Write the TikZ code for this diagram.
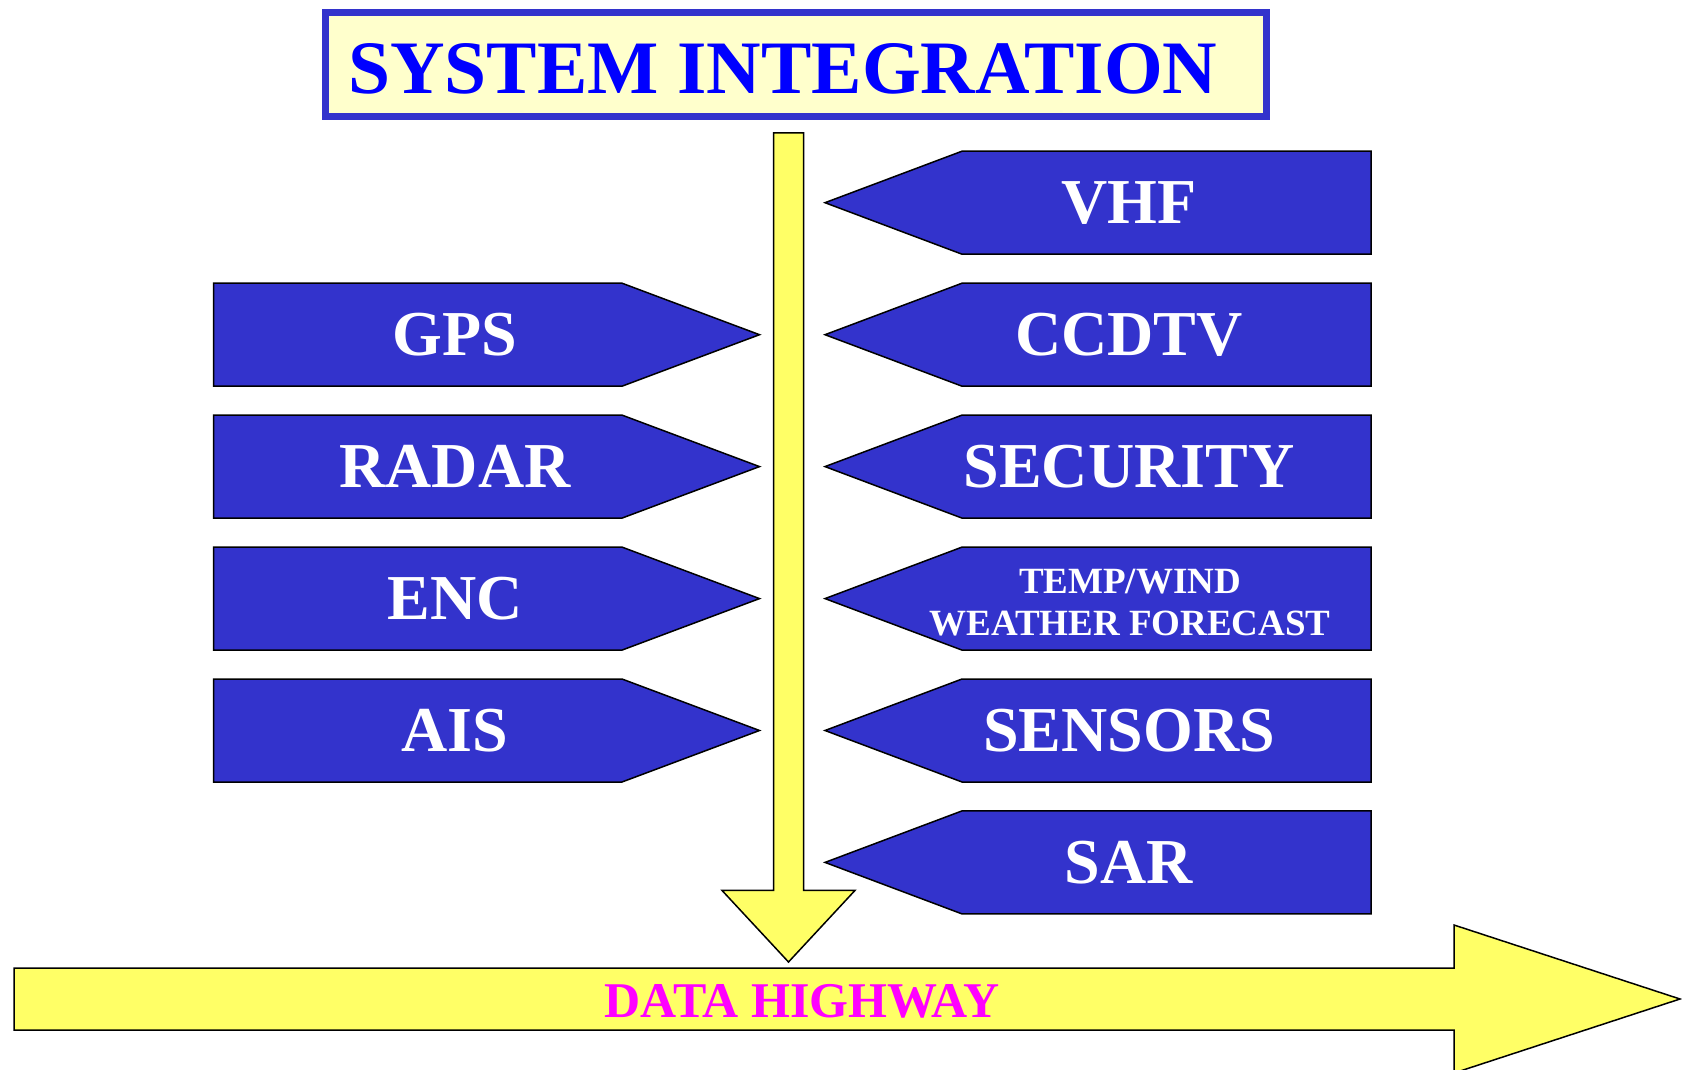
\documentclass[tikz,border=0pt]{standalone}
\usepackage{fontspec}
\setmainfont{Liberation Serif}
\definecolor{panelblue}{HTML}{3333CC}
\definecolor{busyellow}{HTML}{FFFF66}
\definecolor{titlefill}{HTML}{FFFFCC}
\definecolor{titleblue}{HTML}{0000FF}
\definecolor{busmagenta}{HTML}{FF00FF}
\begin{document}
\begin{tikzpicture}[x=1pt,y=-1pt,
  panel/.style={draw=black,fill=panelblue,line width=1.5pt,line join=miter},
  busarrow/.style={draw=black,fill=busyellow,line width=1.5pt,line join=miter},
  lbl/.style={text=white,font=\fontsize{64}{64}\selectfont\bfseries,inner sep=0pt,anchor=base},
  smalllbl/.style={text=white,font=\fontsize{37}{42}\selectfont\bfseries,inner sep=0pt,anchor=base}]
\useasboundingbox (0,0) rectangle (1682,1070);
\fill[white] (0,0) rectangle (1682,1070);

% title banner
\draw[draw=panelblue,fill=titlefill,line width=7pt] (325.5,12.3) rectangle (1266.4,116.5);
\node[text=titleblue,font=\fontsize{75.5}{75.5}\selectfont\bfseries,inner sep=0pt,anchor=base west]
  (title) at (348,93.5) {SYSTEM INTEGRATION};

% downward feed into the data highway
\draw[busarrow] (773.5,133) -- (803.5,133) -- (803.5,890.4) -- (855,890.4)
  -- (788.5,962) -- (722,890.4) -- (773.5,890.4) -- cycle;

% data highway
\draw[busarrow] (14,968) -- (1454,968) -- (1454,925) -- (1680,999)
  -- (1454,1073) -- (1454,1030) -- (14,1030) -- cycle;
\node[text=busmagenta,font=\fontsize{50}{50}\selectfont\bfseries,inner sep=0pt,anchor=base]
  (highway) at (802,1017) {DATA HIGHWAY};

% sources on the left, pointing right
\foreach \yc/\txt/\nm in {334.7/GPS/gps,466.6/RADAR/radar,598.6/ENC/enc,730.5/AIS/ais}{
  \draw[panel] (213.5,\yc-51.5) -- (622,\yc-51.5) -- (759.5,\yc)
    -- (622,\yc+51.5) -- (213.5,\yc+51.5) -- cycle;
  \node[lbl] (\nm) at (455,\yc+21) {\txt};
}

% sources on the right, pointing left
\foreach \yc/\txt/\nm in {202.7/VHF/vhf,334.7/CCDTV/ccdtv,466.6/SECURITY/security,730.5/SENSORS/sensors,862.4/SAR/sar}{
  \draw[panel] (1371,\yc-51.5) -- (962,\yc-51.5) -- (825,\yc)
    -- (962,\yc+51.5) -- (1371,\yc+51.5) -- cycle;
  \node[lbl] (\nm) at (1129,\yc+21) {\txt};
}
\draw[panel] (1371,547.1) -- (962,547.1) -- (825,598.6)
  -- (962,650.1) -- (1371,650.1) -- cycle;
\node[smalllbl] (tempwind) at (1130,593) {TEMP/WIND};
\node[smalllbl] (forecast) at (1130,635.5) {WEATHER FORECAST};
\end{tikzpicture}
\end{document}
